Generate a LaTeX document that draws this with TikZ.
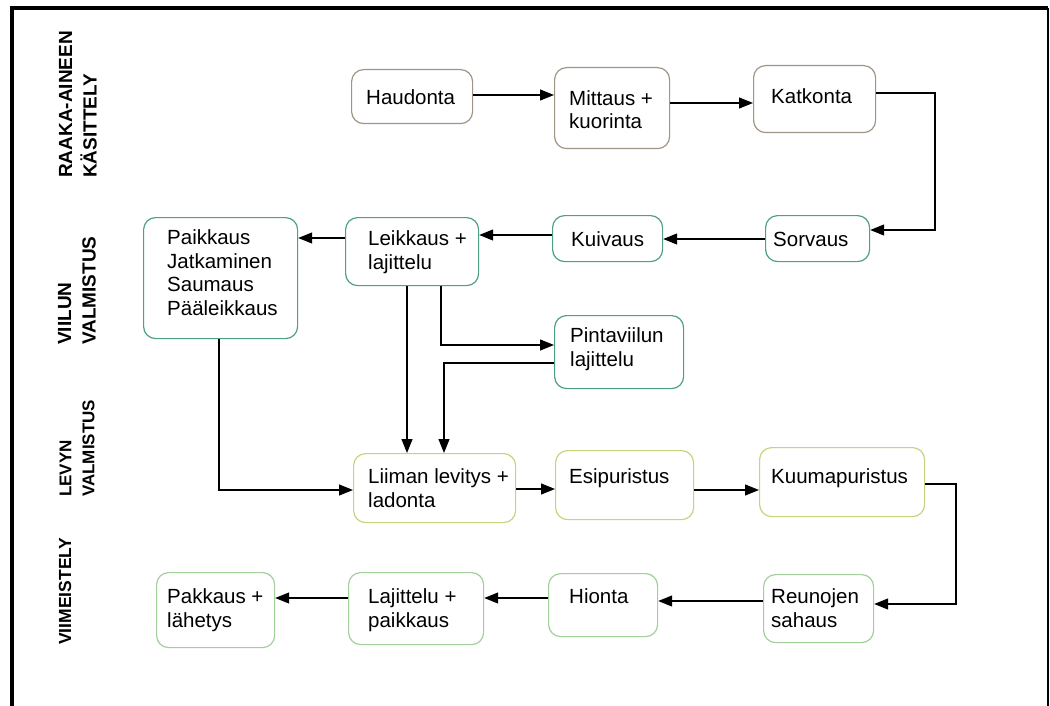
\documentclass[tikz,border=0pt]{standalone}
\usepackage{fontspec}
\setmainfont{Liberation Sans}
\usetikzlibrary{arrows.meta}
\definecolor{cbrown}{HTML}{A09584}
\definecolor{cteal}{HTML}{4F9E86}
\definecolor{cyell}{HTML}{CAD27C}
\definecolor{cgreen}{HTML}{A2CF9C}
\newcommand\bx[6]{\node[box, draw=#6, anchor=north west, minimum width={#4-#2}, minimum height={#5-#3}] (#1) at (#2,#3) {};}
\begin{document}
\begin{tikzpicture}[x=1pt,y=-1pt,
  box/.style={rounded corners=12pt, line width=1.2pt, fill=white, inner sep=0pt},
  txt/.style={anchor=base west, inner sep=0pt, font=\fontsize{20.5}{24}\selectfont, align=left},
  conn/.style={line width=1.2pt, -{Triangle[length=14pt,width=11pt]}},
  lab/.style={rotate=90, anchor=west, inner sep=0pt, align=left, font=\bfseries\fontsize{19}{24.5}\selectfont}]
\useasboundingbox (0,0) rectangle (1050,706);
% frame
\draw[line width=4pt] (12,706) -- (12,8.5) -- (1048,8.5);
\draw[line width=1.8pt] (1048,8.5) -- (1048,706);
% side labels
\node[lab] (lraaka) at (78,178) {RAAKA-AINEEN\\KÄSITTELY};
\node[lab] (lviilu) at (77,345) {VIILUN\\VALMISTUS};
\node[lab, font=\bfseries\fontsize{17}{23}\selectfont] (llevyn) at (77,497) {LEVYN\\VALMISTUS};
\node[lab, font=\bfseries\fontsize{17.5}{23}\selectfont] (lviim) at (65,645) {VIIMEISTELY};
% boxes
\bx{hau}{351}{69}{472}{123}{cbrown}
\bx{mit}{554}{67}{669}{148}{cbrown}
\bx{kat}{753}{65}{875}{132}{cbrown}
\bx{sor}{765}{215}{869}{261}{cteal}
\bx{kui}{552}{215}{662}{261}{cteal}
\bx{lei}{345}{217}{478}{285}{cteal}
\bx{pai}{143}{217}{297}{338}{cteal}
\bx{pin}{554}{315}{683}{388}{cteal}
\bx{lii}{353}{453}{515}{522}{cyell}
\bx{esi}{555}{450}{693}{519}{cyell}
\bx{kuu}{759}{447}{924}{516}{cyell}
\bx{reu}{763}{574}{873}{642}{cgreen}
\bx{hio}{548}{573}{657}{636}{cgreen}
\bx{laj}{348}{572}{483}{644}{cgreen}
\bx{pak}{156}{572}{274}{647}{cgreen}
% texts (anchor = baseline of the last line)
\node[txt] (hau-t) at (366,105) {Haudonta};
\node[txt] (mit-t) at (569,129) {Mittaus +\\kuorinta};
\node[txt] (kat-t) at (771,104) {Katkonta};
\node[txt] (sor-t) at (773,246) {Sorvaus};
\node[txt] (kui-t) at (571,246) {Kuivaus};
\node[txt] (lei-t) at (368,269) {Leikkaus +\\lajittelu};
\node[txt, font=\fontsize{20.5}{23.4}\selectfont] (pai-t) at (167,315) {Paikkaus\\Jatkaminen\\Saumaus\\Pääleikkaus};
\node[txt] (pin-t) at (570,366) {Pintaviilun\\lajittelu};
\node[txt] (lii-t) at (368,507) {Liiman levitys +\\ladonta};
\node[txt] (esi-t) at (569,483) {Esipuristus};
\node[txt] (kuu-t) at (771,483) {Kuumapuristus};
\node[txt] (reu-t) at (771,627) {Reunojen\\sahaus};
\node[txt] (hio-t) at (569,603) {Hionta};
\node[txt] (laj-t) at (368,627) {Lajittelu +\\paikkaus};
\node[txt] (pak-t) at (167,627) {Pakkaus +\\lähetys};
% connectors
\draw[conn] (hau.east |- 0,95) -- (mit.west |- 0,95);
\draw[conn] (mit.east |- 0,103) -- (kat.west |- 0,103);
\draw[conn] (kat.east |- 0,93) -- (935,93) -- (935,230) -- (sor.east |- 0,230);
\draw[conn] (sor.west |- 0,239) -- (kui.east |- 0,239);
\draw[conn] (kui.west |- 0,235) -- (lei.east |- 0,235);
\draw[conn] (lei.west |- 0,238) -- (pai.east |- 0,238);
\draw[conn] (lei.south -| 407,0) -- (lii.north -| 407,0);
\draw[conn] (lei.south -| 441,0) -- (441,345) -- (pin.west |- 0,345);
\draw[conn] (pin.west |- 0,363) -- (444,363) -- (lii.north -| 444,0);
\draw[conn] (pai.south -| 219,0) -- (219,490) -- (lii.west |- 0,490);
\draw[conn] (lii.east |- 0,489) -- (esi.west |- 0,489);
\draw[conn] (esi.east |- 0,490) -- (kuu.west |- 0,490);
\draw[conn] (kuu.east |- 0,484) -- (956,484) -- (956,604) -- (reu.east |- 0,604);
\draw[conn] (reu.west |- 0,601) -- (hio.east |- 0,601);
\draw[conn] (hio.west |- 0,598) -- (laj.east |- 0,598);
\draw[conn] (laj.west |- 0,598) -- (pak.east |- 0,598);
\end{tikzpicture}
\end{document}
